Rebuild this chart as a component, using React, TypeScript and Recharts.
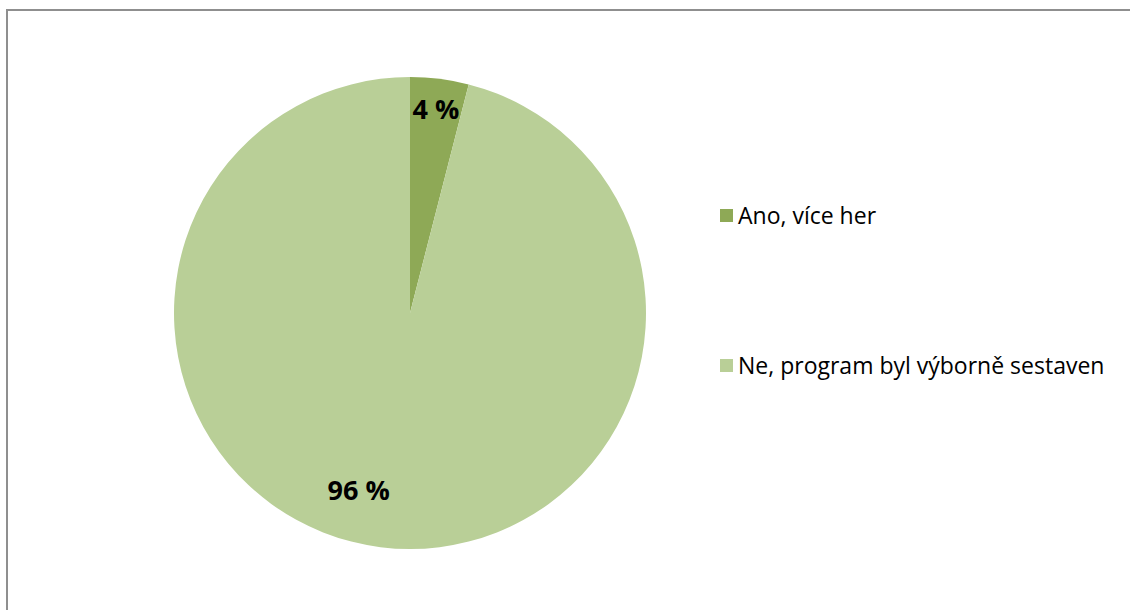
// Pie chart: survey answer share
import React from 'react';
import { PieChart, Pie, Cell } from 'recharts';

const categories = ['Ano, více her', 'Ne, program byl výborně sestaven'];
const shares = [4, 96];
const labels = ['4 %', '96 %'];

const COLORS = ['#8EA956', '#B9CF97'];
const FONT = '"Open Sans", "Noto Sans", sans-serif';

const data = categories.map((name, i) => ({ name, value: shares[i], label: labels[i] }));

const RADIAN = Math.PI / 180;

// labels placed like Excel's best-fit
const renderLabel = (props: any) => {
  const { cx, cy, midAngle, outerRadius, index } = props;
  const r = index === 0 ? outerRadius * 0.875 : outerRadius * 0.78;
  const angle = index === 0 ? midAngle : midAngle - 9;
  const x = cx + r * Math.cos(-angle * RADIAN);
  const y = cy + r * Math.sin(-angle * RADIAN);
  return (
    <text
      x={x}
      y={y}
      textAnchor="middle"
      dominantBaseline="central"
      fill="#000"
      style={{ fontFamily: FONT, fontSize: 27, fontWeight: 700 }}
    >
      {data[index].label}
    </text>
  );
};

const ChartLegend = () => (
  <div style={{ position: 'absolute', left: 720, top: 198, fontFamily: FONT, fontSize: 23, color: '#000' }}>
    {data.map((d, i) => (
      <div
        key={d.name}
        style={{ display: 'flex', alignItems: 'center', height: 34, marginBottom: i === 0 ? 116 : 0, whiteSpace: 'nowrap' }}
      >
        <span style={{ width: 13, height: 13, flexShrink: 0, background: COLORS[i], marginRight: 5, display: 'inline-block' }} />
        <span>{d.name}</span>
      </div>
    ))}
  </div>
);

export default function App() {
  return (
    <div style={{ position: 'fixed', left: 0, top: 0, width: 1130, height: 610, overflow: 'hidden', background: '#fff' }}>
      <div
        style={{
          position: 'absolute',
          left: 6,
          top: 9,
          width: 1200,
          height: 700,
          borderLeft: '2px solid #8f8f8f',
          borderTop: '2px solid #8f8f8f',
        }}
      />
      <div style={{ position: 'absolute', left: 0, top: 0 }}>
        <PieChart width={1130} height={610} margin={{ top: 0, right: 0, bottom: 0, left: 0 }}>
          <Pie
            data={data}
            dataKey="value"
            nameKey="name"
            cx={410}
            cy={313}
            outerRadius={236}
            startAngle={90}
            endAngle={-270}
            stroke="none"
            labelLine={false}
            label={renderLabel}
            isAnimationActive={false}
          >
            {data.map((d, i) => (
              <Cell key={d.name} fill={COLORS[i]} />
            ))}
          </Pie>
        </PieChart>
      </div>
      <ChartLegend />
    </div>
  );
}
